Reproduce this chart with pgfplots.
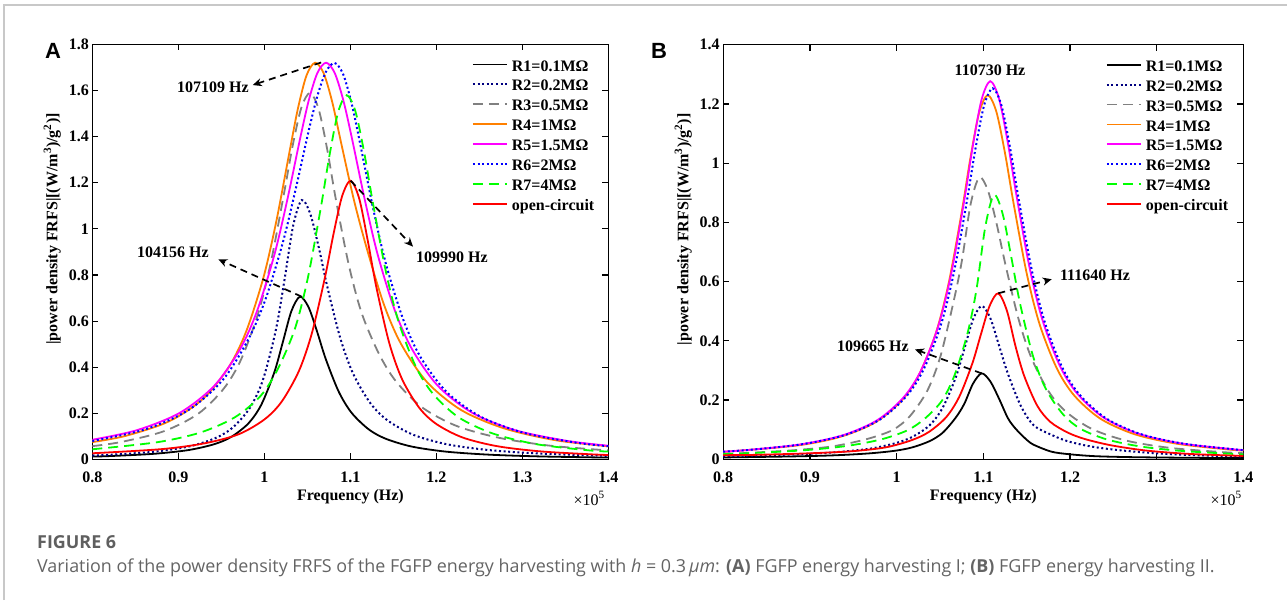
\documentclass[border=0pt]{standalone}
\usepackage{fontspec}
\setmainfont{Liberation Serif}
\newfontfamily\capfont{Open Sans}
\newfontfamily\panelfont{Liberation Sans}
\usepackage{pgfplots}
\pgfplotsset{compat=1.18}
\usetikzlibrary{arrows.meta}
\definecolor{navyc}{RGB}{0,0,128}
\definecolor{grayc}{RGB}{128,128,128}
\definecolor{orangec}{RGB}{255,128,0}
\definecolor{magentac}{RGB}{255,0,255}
\definecolor{bluec}{RGB}{0,0,255}
\definecolor{greenc}{RGB}{0,255,0}
\definecolor{redc}{RGB}{255,0,0}
\definecolor{capgray}{RGB}{100,100,100}
\definecolor{figgray}{RGB}{95,95,95}
\definecolor{framegray}{RGB}{200,200,200}
\newcommand{\chartfont}{\fontsize{16pt}{18pt}\selectfont\bfseries}
\tikzset{ann/.style={black, line width=1.7pt, dash pattern=on 7pt off 5pt, -{Stealth[length=9pt,width=8pt]}}}
\pgfplotsset{
  myaxis/.style={
    scale only axis,
    xmin=0.8, xmax=1.4, ymin=0,
    xtick={0.8,0.9,1,1.1,1.2,1.3,1.4},
    xticklabels={0.8,0.9,1,1.1,1.2,1.3,1.4},
    tick align=inside,
    major tick length=6pt,
    axis line style={line width=1.2pt},
    every tick/.style={line width=1.2pt, black},
    tick label style={font=\chartfont},
    xticklabel style={yshift=-9pt},
    every axis x label/.style={at={(axis description cs:0.5,-0.09)}, anchor=center, font=\chartfont},
    xlabel={Frequency (Hz)},
    ylabel={|power density FRFS|[(W/m\textsuperscript{3})/g\textsuperscript{2})]},
    legend cell align=left,
    legend style={draw=none, fill=none, at={(rel axis cs:0.7356,0.965)}, anchor=north west,
      inner sep=0pt, outer sep=0pt, row sep=0pt, font=\chartfont,
      nodes={inner sep=0pt, text height=12pt, text depth=7.9pt}},
    legend image code/.code={\draw[line width=1.8pt, ##1] (0pt,4.5pt) -- (34pt,4.5pt); \path (38pt,0pt);},
    every axis plot/.append style={line width=1.8pt, smooth},
  },
  r1/.style={black},
  r2/.style={navyc, line width=2pt, dash pattern=on 2pt off 2.6pt},
  r3/.style={grayc, dash pattern=on 10pt off 6pt},
  r4/.style={orangec},
  r5/.style={magentac},
  r6/.style={bluec, line width=2pt, dash pattern=on 2pt off 2.6pt},
  r7/.style={greenc, dash pattern=on 10pt off 6pt},
  roc/.style={redc},
}
\begin{document}
\begin{tikzpicture}
\useasboundingbox (0pt,0pt) rectangle (1287pt,600pt);
\draw[line width=1.2pt, framegray] (4pt,0pt) -- (4pt,595pt) -- (1287pt,595pt);

% ---------------- Panel A ----------------
\begin{axis}[myaxis, at={(92.3pt,140.6pt)}, anchor=south west,
  width=516.2pt, height=414.9pt, ymax=1.8,
  ytick={0,0.2,0.4,0.6,0.8,1,1.2,1.4,1.6,1.8},
  yticklabels={0,0.2,0.4,0.6,0.8,1,1.2,1.4,1.6,1.8},
  every axis y label/.style={at={(axis description cs:-0.0775,0.555)}, rotate=90, anchor=center, font=\chartfont}]
\addplot[r1] coordinates {(0.8,0.0122) (0.8214,0.0146) (0.8714,0.0242) (0.9114,0.0403) (0.9414,0.0656) (0.9614,0.0974) (0.9814,0.156) (0.9964,0.237) (1.0114,0.376) (1.0214,0.508) (1.0314,0.643) (1.0414,0.706) (1.0514,0.660) (1.0614,0.553) (1.0714,0.435) (1.0864,0.294) (1.1014,0.2021) (1.1214,0.130) (1.1414,0.0891) (1.1714,0.0556) (1.2114,0.0336) (1.2614,0.0205) (1.3214,0.0128) (1.4,0.0078)};
\addlegendentry{R1=0.1MΩ}
\addplot[r2] coordinates {(0.8,0.0168) (0.8234,0.0205) (0.8734,0.0340) (0.9134,0.0569) (0.9434,0.0929) (0.9634,0.1387) (0.9834,0.225) (0.9984,0.346) (1.0134,0.5625) (1.0234,0.779) (1.0334,1.0125) (1.0434,1.125) (1.0534,1.0647) (1.0634,0.917) (1.0734,0.745) (1.0884,0.524) (1.1034,0.370) (1.1234,0.243) (1.1434,0.1687) (1.1734,0.1063) (1.2134,0.0647) (1.2634,0.0396) (1.3234,0.0248) (1.4,0.0154)};
\addlegendentry{R2=0.2MΩ}
\addplot[r3] coordinates {(0.8,0.0575) (0.833,0.0751) (0.883,0.1219) (0.923,0.1978) (0.953,0.308) (0.973,0.434) (0.993,0.636) (1.008,0.863) (1.023,1.157) (1.033,1.363) (1.043,1.526) (1.053,1.59) (1.063,1.521) (1.073,1.346) (1.083,1.130) (1.098,0.846) (1.113,0.636) (1.133,0.4595) (1.153,0.3385) (1.183,0.2266) (1.223,0.1457) (1.273,0.0935) (1.333,0.0591) (1.4,0.039)};
\addlegendentry{R3=0.5MΩ}
\addplot[r4] coordinates {(0.8,0.075) (0.839,0.1023) (0.889,0.1647) (0.929,0.2637) (0.959,0.403) (0.979,0.5564) (0.999,0.790) (1.014,1.035) (1.029,1.330) (1.039,1.522) (1.049,1.666) (1.059,1.721) (1.069,1.6745) (1.079,1.549) (1.089,1.377) (1.104,1.127) (1.119,0.916) (1.139,0.6716) (1.159,0.5001) (1.189,0.3357) (1.229,0.2136) (1.279,0.1343) (1.339,0.0829) (1.4,0.0568)};
\addlegendentry{R4=1MΩ}
\addplot[r5] coordinates {(0.8,0.0852) (0.8517,0.1266) (0.9017,0.2020) (0.9417,0.319) (0.9717,0.4779) (0.9917,0.6458) (1.0117,0.8887) (1.0267,1.127) (1.0417,1.3945) (1.0517,1.559) (1.0617,1.677) (1.0717,1.721) (1.0817,1.677) (1.0917,1.559) (1.1017,1.3945) (1.1167,1.127) (1.1317,0.8887) (1.1517,0.6458) (1.1717,0.4779) (1.2017,0.319) (1.2417,0.2020) (1.2917,0.1266) (1.3517,0.0804) (1.4,0.0593)};
\addlegendentry{R5=1.5MΩ}
\addplot[r6] coordinates {(0.8,0.0796) (0.8615,0.1304) (0.9115,0.2135) (0.9515,0.344) (0.9815,0.5219) (1.0015,0.6966) (1.0215,0.9417) (1.0365,1.174) (1.0515,1.4255) (1.0615,1.575) (1.0715,1.681) (1.0815,1.72) (1.0915,1.672) (1.1015,1.543) (1.1115,1.3667) (1.1265,1.0874) (1.1415,0.8456) (1.1615,0.606) (1.1815,0.4441) (1.2115,0.2938) (1.2515,0.1849) (1.3015,0.1154) (1.3615,0.0731) (1.4,0.0571)};
\addlegendentry{R6=2MΩ}
\addplot[r7] coordinates {(0.8,0.0439) (0.8757,0.0747) (0.9257,0.1167) (0.9657,0.1827) (0.9957,0.2759) (1.0157,0.3926) (1.0357,0.569) (1.0507,0.79) (1.0657,1.094) (1.0757,1.319) (1.0857,1.506) (1.0957,1.58) (1.1057,1.5116) (1.1157,1.338) (1.1257,1.1226) (1.1407,0.8243) (1.1557,0.6009) (1.1757,0.4054) (1.1957,0.2858) (1.2257,0.1827) (1.2657,0.1122) (1.3157,0.0662) (1.3757,0.0398) (1.4,0.0338)};
\addlegendentry{R7=4MΩ}
\addplot[roc] coordinates {(0.8,0.0266) (0.8803,0.0445) (0.9303,0.0696) (0.9703,0.1094) (1.0003,0.174) (1.0203,0.2515) (1.0403,0.3848) (1.0553,0.5484) (1.0703,0.7874) (1.0803,0.9766) (1.0903,1.1411) (1.1003,1.209) (1.1103,1.1307) (1.1203,0.9468) (1.1303,0.7449) (1.1453,0.5033) (1.1603,0.3461) (1.1803,0.2226) (1.2003,0.1526) (1.2303,0.0952) (1.2703,0.0575) (1.3203,0.0350) (1.3803,0.0219) (1.4,0.0191)};
\addlegendentry{open-circuit}
\draw[ann] (axis cs:1.066,1.722) -- (axis cs:0.9865,1.624);
\node[font=\chartfont] at (axis cs:0.9403,1.616) {107109 Hz};
\draw[ann] (axis cs:1.0434,0.706) -- (axis cs:0.9465,0.868);
\node[font=\chartfont] at (axis cs:0.8938,0.90) {104156 Hz};
\draw[ann] (axis cs:1.1003,1.209) -- (axis cs:1.1728,0.923);
\node[font=\chartfont] at (axis cs:1.2181,0.878) {109990 Hz};
\end{axis}

% ---------------- Panel B ----------------
\begin{axis}[myaxis, at={(723.2pt,140.8pt)}, anchor=south west,
  width=520.2pt, height=414.4pt, ymax=1.4,
  ytick={0,0.2,0.4,0.6,0.8,1,1.2,1.4},
  yticklabels={0,0.2,0.4,0.6,0.8,1,1.2,1.4},
  every axis y label/.style={at={(axis description cs:-0.0769,0.555)}, rotate=90, anchor=center, font=\chartfont}]
\addplot[r1] coordinates {(0.8,0.0059) (0.8781,0.0093) (0.9281,0.0131) (0.9681,0.0196) (0.9981,0.0285) (1.0181,0.040) (1.0381,0.0611) (1.0531,0.0892) (1.0681,0.1401) (1.0781,0.1873) (1.0881,0.255) (1.0981,0.29) (1.1081,0.2627) (1.1181,0.2048) (1.1281,0.1401) (1.1356,0.1085) (1.1431,0.0851) (1.1506,0.0642) (1.1581,0.0488) (1.1781,0.0258) (1.1981,0.0171) (1.2281,0.0103) (1.2681,0.0071) (1.3181,0.0053) (1.3781,0.0040) (1.4,0.0038)};
\addlegendentry{R1=0.1MΩ}
\addplot[r2] coordinates {(0.8,0.0096) (0.8781,0.0158) (0.9281,0.0234) (0.9681,0.035) (0.9981,0.0536) (1.0181,0.0753) (1.0381,0.1146) (1.0531,0.1738) (1.0681,0.2755) (1.0781,0.3722) (1.0881,0.4715) (1.0981,0.5176) (1.1081,0.4764) (1.1181,0.3845) (1.1281,0.291) (1.1431,0.181) (1.1581,0.1146) (1.1781,0.083) (1.1981,0.060) (1.2281,0.041) (1.2681,0.0272) (1.3181,0.0166) (1.3781,0.0104) (1.4,0.0089)};
\addlegendentry{R2=0.2MΩ}
\addplot[r3] coordinates {(0.8,0.0171) (0.8754,0.029) (0.9254,0.0431) (0.9654,0.0678) (0.9954,0.0986) (1.0154,0.1457) (1.0354,0.2314) (1.0504,0.346) (1.0654,0.5284) (1.0754,0.6722) (1.0854,0.8622) (1.0954,0.952) (1.1054,0.9072) (1.1154,0.795) (1.1254,0.6591) (1.1404,0.476) (1.1554,0.3427) (1.1754,0.2288) (1.1954,0.1603) (1.2254,0.1019) (1.2654,0.0624) (1.3154,0.0382) (1.3754,0.024) (1.4,0.0203)};
\addlegendentry{R3=0.5MΩ}
\addplot[r4] coordinates {(0.8,0.0245) (0.885,0.0463) (0.935,0.0756) (0.975,0.1238) (1.005,0.1957) (1.025,0.2807) (1.045,0.4237) (1.06,0.5941) (1.075,0.8335) (1.085,1.0154) (1.095,1.1682) (1.105,1.23) (1.115,1.1745) (1.125,1.0344) (1.135,0.863) (1.15,0.6285) (1.165,0.4553) (1.185,0.3056) (1.205,0.2148) (1.235,0.1369) (1.275,0.0839) (1.325,0.0515) (1.385,0.0323) (1.4,0.0292)};
\addlegendentry{R4=1MΩ}
\addplot[r5] coordinates {(0.8,0.0258) (0.828,0.031) (0.888,0.0496) (0.938,0.0809) (0.978,0.1323) (1.008,0.2087) (1.028,0.2987) (1.048,0.4492) (1.063,0.627) (1.078,0.8742) (1.088,1.06) (1.098,1.2148) (1.108,1.277) (1.118,1.2194) (1.128,1.074) (1.138,0.896) (1.153,0.6525) (1.168,0.4727) (1.188,0.3173) (1.208,0.223) (1.238,0.1421) (1.278,0.0871) (1.328,0.0535) (1.388,0.0336) (1.4,0.0309)};
\addlegendentry{R5=1.5MΩ}
\addplot[r6] coordinates {(0.8,0.0257) (0.8308,0.0316) (0.8908,0.0504) (0.9408,0.0821) (0.9808,0.1341) (1.0108,0.211) (1.0308,0.3012) (1.0508,0.4511) (1.0658,0.6265) (1.0808,0.8675) (1.0908,1.0464) (1.1008,1.194) (1.1108,1.253) (1.1208,1.1965) (1.1308,1.0538) (1.1408,0.8791) (1.1558,0.6403) (1.1708,0.4639) (1.1908,0.3114) (1.2108,0.2188) (1.2408,0.1395) (1.2808,0.0855) (1.3308,0.0525) (1.3908,0.033) (1.4,0.0309)};
\addlegendentry{R6=2MΩ}
\addplot[r7] coordinates {(0.8,0.0174) (0.8323,0.0206) (0.8923,0.03) (0.9423,0.0447) (0.9823,0.067) (1.0123,0.0974) (1.0323,0.1366) (1.0523,0.1978) (1.0673,0.2874) (1.0823,0.4314) (1.0923,0.5766) (1.1023,0.7853) (1.1123,0.893) (1.1223,0.829) (1.1323,0.6824) (1.1423,0.527) (1.1573,0.3485) (1.1723,0.2364) (1.1923,0.1504) (1.2123,0.1024) (1.2423,0.067) (1.2823,0.0425) (1.3323,0.0272) (1.4,0.0161)};
\addlegendentry{R7=4MΩ}
\addplot[roc] coordinates {(0.8,0.0136) (0.8373,0.0147) (0.8973,0.0197) (0.9473,0.0267) (0.9873,0.0399) (1.0173,0.0643) (1.0373,0.0922) (1.0573,0.1423) (1.0723,0.2112) (1.0873,0.3231) (1.0973,0.4224) (1.1073,0.5181) (1.1173,0.5604) (1.1273,0.5008) (1.1373,0.3798) (1.1473,0.2802) (1.1623,0.1803) (1.1773,0.126) (1.1973,0.090) (1.2173,0.068) (1.2473,0.047) (1.2873,0.0294) (1.3373,0.0179) (1.4,0.011)};
\addlegendentry{open-circuit}
\node[font=\chartfont] at (axis cs:1.1077,1.315) {110730 Hz};
\draw[ann] (axis cs:1.1173,0.5605) -- (axis cs:1.1789,0.608);
\node[font=\chartfont] at (axis cs:1.2288,0.622) {111640 Hz};
\draw[ann] (axis cs:1.0981,0.29) -- (axis cs:1.0212,0.371);
\node[font=\chartfont] at (axis cs:0.9727,0.380) {109665 Hz};
\end{axis}

% exponent labels
\node[anchor=base east, inner sep=0pt, font=\fontsize{16pt}{18pt}\selectfont] at (605pt,95pt) {×10\textsuperscript{5}};
\node[anchor=base east, inner sep=0pt, font=\fontsize{16pt}{18pt}\selectfont] at (1242pt,95pt) {×10\textsuperscript{5}};

% panel letters
\node[font=\panelfont\fontsize{22pt}{24pt}\selectfont\bfseries] at (53pt,549pt) {A};
\node[font=\panelfont\fontsize{22pt}{24pt}\selectfont\bfseries] at (659pt,549pt) {B};

% caption
\node[anchor=west, inner sep=0pt, text=figgray, font=\capfont\fontsize{17.9pt}{20pt}\selectfont\bfseries] at (37pt,58pt) {FIGURE 6};
\node[anchor=west, inner sep=0pt, text=capgray, font=\capfont\fontsize{17.9pt}{20pt}\selectfont] at (37pt,32pt) {Variation of the power density FRFS of the FGFP energy harvesting with \textit{h} = 0.3\,\textit{μm}: \textbf{(A)} FGFP energy harvesting I; \textbf{(B)} FGFP energy harvesting II.};
\end{tikzpicture}
\end{document}
